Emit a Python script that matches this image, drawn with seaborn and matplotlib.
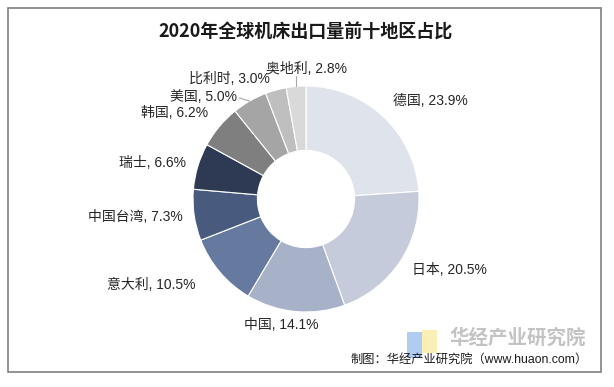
import numpy as np
import matplotlib
matplotlib.use("Agg")
import matplotlib.pyplot as plt
import seaborn as sns
from matplotlib.patches import Rectangle

# ---- data ----
regions = ["德国", "日本", "中国", "意大利", "中国台湾", "瑞士", "韩国", "美国", "比利时", "奥地利"]
shares = [23.9, 20.5, 14.1, 10.5, 7.3, 6.6, 6.2, 5.0, 3.0, 2.8]
title = "2020年全球机床出口量前十地区占比"
source_text = "制图：华经产业研究院（www.huaon.com）"
brand_text = "华经产业研究院"

# ---- style ----
sns.set_theme(style="white")
plt.rcParams['font.family'] = ['Liberation Sans', 'Noto Sans CJK SC', 'DejaVu Sans']

colors = ["#DFE3EC", "#C5CBDA", "#A7B2C9", "#66799F", "#485A7D",
          "#2E3A53", "#7F7F7F", "#A5A5A5", "#BFBFBF", "#D9D9D9"]

# label layout: radial distance (in radius units), horizontal nudge (px), alignment
label_r = [1.188, 1.153, 1.12, 1.177, 1.106, 1.106, 1.186, 1.042, 1.103, 1.155]
label_dx = [-4.7, -3.3, -12.6, -9.5, 0, 0, 4.8, -10, -2.5, 12]
label_ha = ["left", "left", "center", "right", "right", "right", "right", "right", "right", "center"]

W, H = 614, 387
fig = plt.figure(figsize=(W / 100, H / 100), dpi=100)
cx, cy, R = 306, 199, 113
ax = fig.add_axes([(cx - R) / W, (H - cy - R) / H, 2 * R / W, 2 * R / H])

wedges, _ = ax.pie(shares, colors=colors, startangle=90, counterclock=False, radius=1,
                   wedgeprops=dict(width=0.57, edgecolor='white', linewidth=0.8))
ax.set_xlim(-1, 1)
ax.set_ylim(-1, 1)
ax.axis('off')

for i, (w, name, val) in enumerate(zip(wedges, regions, shares)):
    th = np.deg2rad((w.theta1 + w.theta2) / 2)
    x = label_r[i] * np.cos(th) + label_dx[i] / R
    y = label_r[i] * np.sin(th)
    ax.text(x, y, f"{name}, {val:.1f}%", ha=label_ha[i], va='center',
            fontsize=10, color='#262626', clip_on=False)
    if name == "美国":
        ax.plot([x + 2 / R, np.cos(th)], [y - 1 / R, np.sin(th)], color='#A6A6A6', lw=0.8, clip_on=False)
    if name == "奥地利":
        ax.plot([np.cos(th), np.cos(th)], [y - 7 / R, np.sin(th)], color='#A6A6A6', lw=0.8, clip_on=False)

# title
fig.text(306 / W, 1 - 32 / H, title, ha='center', va='center', fontsize=13,
         fontweight='bold', family=['Noto Sans CJK SC', 'DejaVu Sans'], color='#1a1a1a')

# watermark logo
fig.patches.append(Rectangle((407 / W, 1 - 358 / H), 15 / W, 26 / H, transform=fig.transFigure,
                             facecolor='#A8C8F0', edgecolor='none', alpha=0.9))
fig.patches.append(Rectangle((422 / W, 1 - 353 / H), 15 / W, 23 / H, transform=fig.transFigure,
                             facecolor='#FAEFB0', edgecolor='none', alpha=0.9))
fig.text(518 / W, 1 - 338 / H, brand_text, ha='center', va='center', fontsize=14,
         fontweight='bold', color='#C3C3C3', family=['Noto Sans CJK SC'])
fig.text(588 / W, 1 - 360 / H, source_text, ha='right', va='center', fontsize=8.8,
         color='#1a1a1a')

# border
fig.patches.append(Rectangle((8 / W, 1 - 372 / H), 593 / W, 364 / H, transform=fig.transFigure,
                             fill=False, edgecolor='#808080', lw=1.2))

fig.savefig('out.png', dpi=100)
